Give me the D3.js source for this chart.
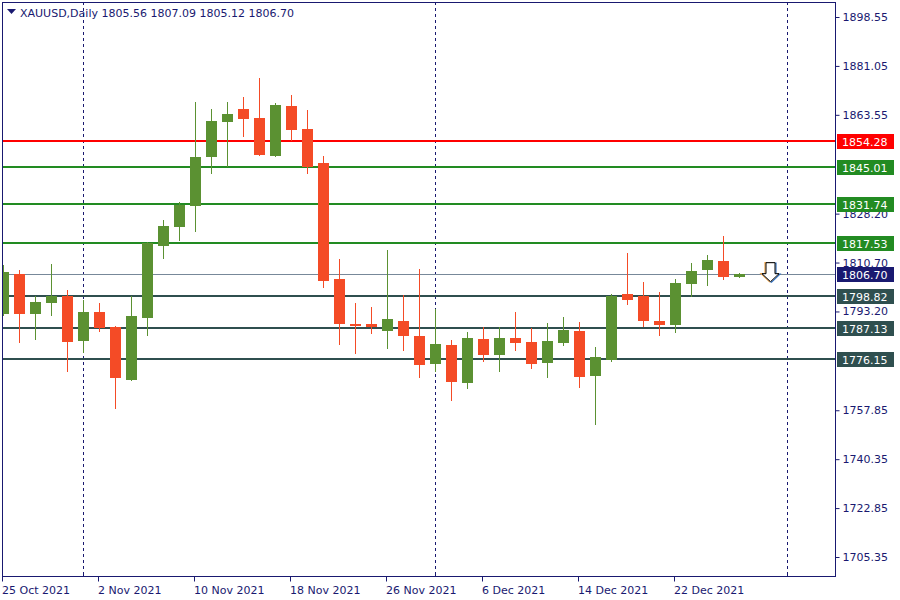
<!DOCTYPE html>
<html><head><meta charset="utf-8">
<script src="https://cdn.jsdelivr.net/npm/d3@7"></script>
<style>body{margin:0;background:#fff}svg{display:block}text{font-family:"DejaVu Sans",sans-serif}</style>
</head><body><svg id="c" width="900" height="600"></svg>
<script>
// ---- data ----
const symbol = "XAUUSD,Daily";
const lastOHLC = [1805.56, 1807.09, 1805.12, 1806.70];
const opens  = [1792.40,1806.60,1792.40,1796.33,1798.73,1782.74,1793.00,1787.64,1768.78,1790.97,1816.72,1823.52,1831.04,1848.57,1861.09,1865.63,1862.41,1848.93,1866.71,1858.48,1846.31,1804.81,1788.71,1788.71,1786.31,1789.78,1784.42,1774.51,1781.20,1767.71,1783.34,1777.73,1783.70,1782.27,1774.87,1782.02,1786.21,1770.21,1775.94,1799.44,1798.84,1789.89,1788.46,1803.13,1808.14,1811.25,1805.56];
const highs  = [1809.82,1808.03,1798.73,1810.18,1800.88,1797.30,1796.33,1788.00,1798.73,1818.05,1825.92,1832.36,1868.14,1865.63,1868.14,1869.93,1876.73,1867.78,1870.64,1865.28,1848.82,1811.97,1796.22,1794.79,1815.19,1799.09,1808.39,1794.19,1783.09,1785.85,1787.64,1787.64,1793.00,1787.28,1789.07,1791.22,1789.43,1780.59,1799.44,1814.22,1803.85,1800.27,1804.81,1810.64,1813.51,1820.30,1807.09];
const lows   = [1791.68,1782.02,1783.09,1791.68,1771.65,1778.44,1785.96,1758.41,1768.42,1784.53,1812.07,1818.51,1821.73,1842.49,1844.99,1855.72,1848.93,1848.50,1854.29,1842.49,1801.70,1781.31,1778.09,1785.24,1779.87,1779.16,1769.50,1771.65,1761.27,1765.56,1775.22,1771.65,1779.16,1772.72,1769.50,1780.95,1765.92,1752.68,1775.22,1795.62,1787.75,1784.53,1785.60,1798.48,1802.41,1804.56,1805.12];
const closes = [1807.32,1792.40,1796.58,1798.73,1782.38,1793.00,1787.39,1769.50,1791.57,1817.69,1823.77,1831.40,1848.46,1861.34,1863.85,1862.16,1849.28,1867.07,1858.23,1844.99,1804.20,1788.82,1788.10,1787.75,1790.50,1784.53,1774.15,1781.56,1768.07,1783.70,1777.73,1783.70,1782.02,1774.51,1782.63,1786.56,1769.86,1777.01,1798.84,1797.41,1789.89,1788.46,1803.49,1807.67,1811.61,1805.63,1806.70];
const dateLabels = ["25 Oct 2021","2 Nov 2021","10 Nov 2021","18 Nov 2021","26 Nov 2021","6 Dec 2021","14 Dec 2021","22 Dec 2021"];
const dateLabelIdx = [0,6,12,18,24,30,36,42];
const separatorIdx = [5,27,49];
const priceTicks = [1898.55,1881.05,1863.55,1828.20,1810.70,1793.20,1757.85,1740.35,1722.85,1705.35];
const levels = [1854.28,1845.01,1831.74,1817.53,1798.82,1787.13,1776.15];
const levelColors = ["#ff0000","#228b22","#228b22","#228b22","#2f4f4f","#2f4f4f","#2f4f4f"];
const currentPrice = 1806.70;
const arrowIdx = 48, arrowPrice = 1808.5;

// ---- drawing ----
const svg = d3.select("#c");
const navy = "#191970";
const L = 2, R = 836, T = 2, B = 577;
const x = d3.scaleLinear().domain([0, 46]).range([3.5, 739.5]);
const y = d3.scaleLinear().domain([1705.35, 1898.55]).range([557, 17]);
const bull = "#5b9132", bear = "#f44b26";

svg.append("defs").append("clipPath").attr("id","clip")
  .append("rect").attr("x",L+0.5).attr("y",T+0.5).attr("width",R-L-1).attr("height",B-T-1);
const plot = svg.append("g").attr("clip-path","url(#clip)");

// separators
plot.selectAll("line.sep").data(separatorIdx).join("line")
  .attr("x1",d=>Math.floor(x(d))+0.5).attr("x2",d=>Math.floor(x(d))+0.5)
  .attr("y1",T).attr("y2",B).attr("stroke",navy).attr("stroke-width",1).attr("stroke-dasharray","3,3");

// current price line
plot.append("line").attr("x1",L).attr("x2",R)
  .attr("y1",Math.round(y(currentPrice))+0.5).attr("y2",Math.round(y(currentPrice))+0.5)
  .attr("stroke","#778899").attr("stroke-width",1);

// level lines
plot.selectAll("line.lvl").data(levels).join("line")
  .attr("x1",L).attr("x2",R).attr("y1",d=>Math.round(y(d))).attr("y2",d=>Math.round(y(d)))
  .attr("stroke",(d,i)=>levelColors[i]).attr("stroke-width",2);

// candles
const data = opens.map((o,i)=>({i,o,h:highs[i],l:lows[i],c:closes[i]}));
const cg = plot.append("g").attr("shape-rendering","crispEdges");
cg.selectAll("line.w").data(data).join("line")
  .attr("x1",d=>Math.floor(x(d.i))+0.5).attr("x2",d=>Math.floor(x(d.i))+0.5)
  .attr("y1",d=>y(d.h)).attr("y2",d=>y(d.l))
  .attr("stroke",d=>d.c>=d.o?bull:bear).attr("stroke-width",1);
cg.selectAll("rect.b").data(data).join("rect")
  .attr("x",d=>Math.round(x(d.i)-5.5)).attr("width",11)
  .attr("y",d=>y(Math.max(d.o,d.c)))
  .attr("height",d=>Math.max(1.5,Math.abs(y(d.o)-y(d.c))))
  .attr("fill",d=>d.c>=d.o?bull:bear);

// arrow
const ax = x(arrowIdx) - 1, ay = y(arrowPrice);
const arrowPath = `M${ax-4.5},${ay-6} h9 v11 h4 l-8.5,8 l-8.5,-8 h4 z`;
plot.append("path").attr("d",arrowPath).attr("transform","translate(-1,0)").attr("fill","none").attr("stroke","#f0a040").attr("stroke-width",1.2);
plot.append("path").attr("d",arrowPath).attr("transform","translate(1,0.5)").attr("fill","none").attr("stroke","#3070c0").attr("stroke-width",1.2);
plot.append("path").attr("d",arrowPath).attr("fill","#fff").attr("stroke","#000").attr("stroke-width",1);

// frame
svg.append("rect").attr("x",L+0.5).attr("y",T+0.5).attr("width",R-L-1).attr("height",B-T-1)
  .attr("fill","none").attr("stroke",navy).attr("stroke-width",1).attr("shape-rendering","crispEdges");

// right axis
const yAxis = d3.axisRight(y).tickValues(priceTicks).tickSize(4).tickPadding(3).tickFormat(d3.format(".2f"));
const ya = svg.append("g").attr("transform",`translate(${R-0.5},0)`).call(yAxis);
ya.select(".domain").remove();
ya.selectAll("line").attr("stroke",navy);
ya.selectAll("text").attr("fill",navy).attr("font-size",11).attr("font-family","DejaVu Sans");

// level labels
const allLabels = levels.map((v,i)=>({v,col:levelColors[i]})).concat([{v:currentPrice,col:navy}]);
const lg = svg.append("g");
lg.selectAll("rect").data(allLabels).join("rect")
  .attr("x",R+1).attr("y",d=>Math.round(y(d.v))-7).attr("width",57).attr("height",15).attr("fill",d=>d.col);
lg.selectAll("text").data(allLabels).join("text")
  .attr("x",R+6).attr("y",d=>Math.round(y(d.v))+4.5).attr("fill","#fff").attr("font-size",11)
  .text(d=>d3.format(".2f")(d.v));

// bottom axis
const xAxis = d3.axisBottom(x).tickValues(dateLabelIdx).tickSize(5).tickPadding(5)
  .tickFormat((d,i)=>dateLabels[i]);
const xa = svg.append("g").attr("transform",`translate(0,${B-0.5})`).call(xAxis);
xa.select(".domain").remove();
xa.selectAll("line").attr("stroke",navy).attr("transform","translate(-1.5,0)");
xa.selectAll("text").attr("fill",navy).attr("font-size",11).attr("text-anchor","start").attr("dx",-2);
// month ticks inside
svg.selectAll("line.mt").data(separatorIdx).join("line")
  .attr("x1",d=>Math.floor(x(d))+0.5).attr("x2",d=>Math.floor(x(d))+0.5)
  .attr("y1",B-5).attr("y2",B).attr("stroke",navy);

// header
svg.append("path").attr("d","M7,9 h9 l-4.5,5 z").attr("fill",navy);
svg.append("text").attr("x",20).attr("y",17).attr("fill",navy).attr("font-size",11)
  .text(symbol + "  " + lastOHLC.map(v=>v.toFixed(2)).join(" "));
</script></body></html>
